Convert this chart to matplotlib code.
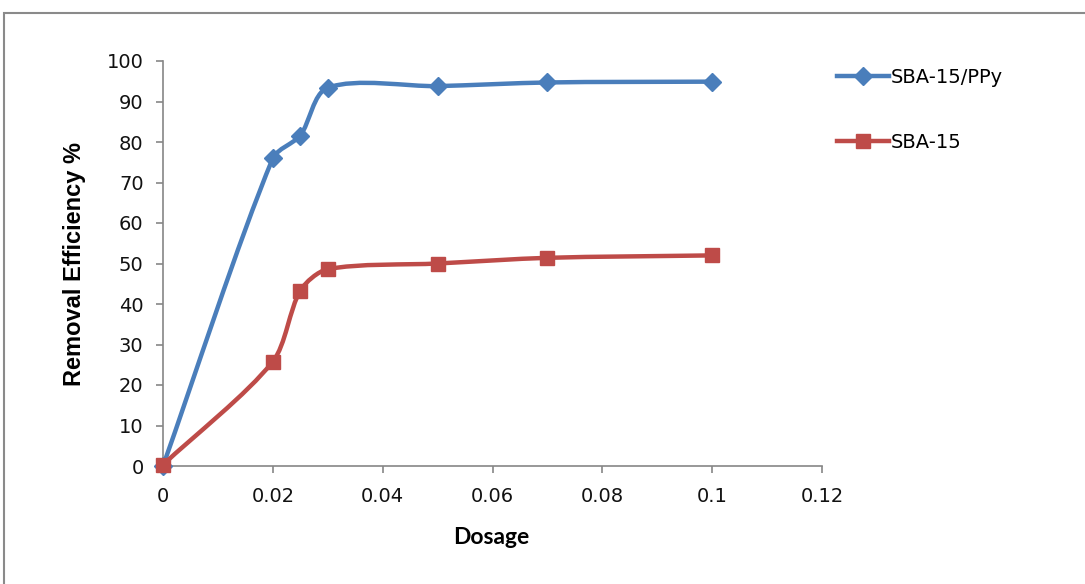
import matplotlib
matplotlib.use("Agg")
import matplotlib.pyplot as plt
import numpy as np
from matplotlib.path import Path
from matplotlib.patches import PathPatch, Rectangle
from matplotlib.lines import Line2D

# dosage vs removal efficiency
dosage = [0, 0.02, 0.025, 0.03, 0.05, 0.07, 0.1]
eff_ppy = [0, 76, 81.6, 93.4, 93.8, 94.7, 94.9]
eff_sba = [0.3, 25.8, 43.3, 48.6, 50.0, 51.4, 52.0]
x_ticks = [0, 0.02, 0.04, 0.06, 0.08, 0.1, 0.12]
x_tick_labels = ['0', '0.02', '0.04', '0.06', '0.08', '0.1', '0.12']
y_ticks = list(range(0, 101, 10))

blue = '#4a7ebb'
red = '#be4b48'

# rough pixel size of one data unit, so the curve is smoothed in screen space
SX = 659 / 0.12
SY = 405 / 100.0


def smooth_path(xs, ys):
    # smoothed line: cubic bezier, tangent from neighbours,
    # handle length proportional to each segment's own length
    pts = np.column_stack([np.array(xs) * SX, np.array(ys) * SY]).astype(float)
    n = len(pts)
    tang = []
    for i in range(n):
        a = pts[max(i - 1, 0)]
        b = pts[min(i + 1, n - 1)]
        d = b - a
        tang.append(d / np.hypot(*d))
    verts = [pts[0]]
    codes = [Path.MOVETO]
    for i in range(n - 1):
        p1, p2 = pts[i], pts[i + 1]
        L = np.hypot(*(p2 - p1)) * 0.28
        verts += [p1 + tang[i] * L, p2 - tang[i + 1] * L, p2]
        codes += [Path.CURVE4] * 3
    verts = np.array(verts)
    verts[:, 0] /= SX
    verts[:, 1] /= SY
    return Path(verts, codes)


fig = plt.figure(figsize=(10.85, 5.84), dpi=100)
ax = fig.add_axes([163 / 1085, 1 - 466 / 584, (822 - 163) / 1085, (466 - 61) / 584])

for ys, col, mk, ms in [(eff_ppy, blue, 'D', 9), (eff_sba, red, 's', 10)]:
    ax.add_patch(PathPatch(smooth_path(dosage, ys), fill=False, edgecolor=col,
                           linewidth=3.2, capstyle='round', joinstyle='round', zorder=2))
    ax.plot(dosage, ys, linestyle='none', marker=mk, markersize=ms, color=col,
            markeredgecolor=col, zorder=3, clip_on=False)

ax.set_xlim(0, 0.12)
ax.set_ylim(0, 100)
ax.set_xticks(x_ticks)
ax.set_xticklabels(x_tick_labels)
ax.set_yticks(y_ticks)

for s in ['top', 'right']:
    ax.spines[s].set_visible(False)
for s in ['left', 'bottom']:
    ax.spines[s].set_color('#868686')
    ax.spines[s].set_linewidth(1.2)
ax.tick_params(direction='out', length=5, width=1.2, color='#868686',
               labelsize=14, labelcolor='#111111')
ax.tick_params(axis='y', pad=9)
ax.tick_params(axis='x', pad=10)

ax.set_ylabel('Removal Efficiency %', fontsize=17, fontweight='bold',
              family='Liberation Sans')
ax.yaxis.set_label_coords(-0.117, 0.5)
ax.set_xlabel('Dosage', fontsize=16.5, fontweight='bold', family='Lato')
ax.xaxis.set_label_coords(0.498, -0.15)

handles = [Line2D([], [], color=blue, lw=3.2, marker='D', markersize=9),
           Line2D([], [], color=red, lw=3.2, marker='s', markersize=10)]
fig.legend(handles, ['SBA-15/PPy', 'SBA-15'], loc='upper left',
           bbox_to_anchor=(821 / 1085, 1 - 52 / 584), frameon=False,
           prop={'family': 'DejaVu Sans', 'size': 14}, handlelength=2.7,
           handletextpad=0.1, labelspacing=2.4, borderpad=0.3)

# outer chart frame
fig.add_artist(Rectangle((4 / 1085, -0.1), 1.2, 1 - 13 / 584 + 0.1,
                         transform=fig.transFigure, fill=False,
                         edgecolor='#8a8a8a', linewidth=1.5, clip_on=False))

fig.savefig('out.png', dpi=100)
